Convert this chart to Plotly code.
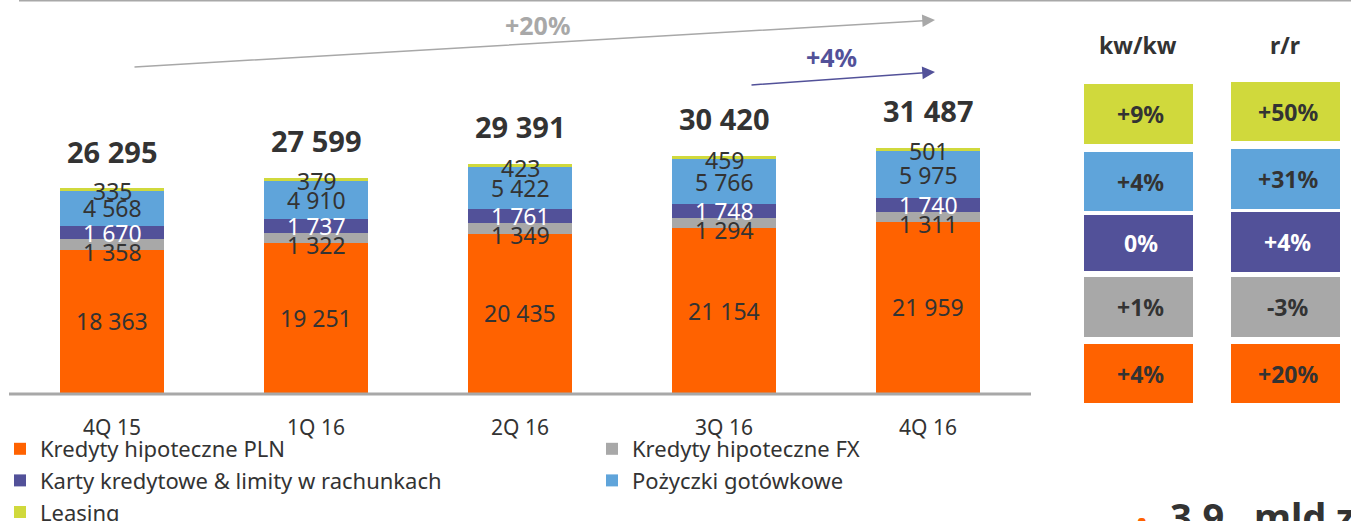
import plotly.graph_objects as go

W, H = 1351, 521

categories = ["4Q 15", "1Q 16", "2Q 16", "3Q 16", "4Q 16"]
series_names = ["Kredyty hipoteczne PLN", "Kredyty hipoteczne FX",
                "Karty kredytowe & limity w rachunkach", "Pożyczki gotówkowe", "Leasing"]
pln = [18363, 19251, 20435, 21154, 21959]
fx = [1358, 1322, 1349, 1294, 1311]
karty = [1670, 1737, 1761, 1748, 1740]
pozyczki = [4568, 4910, 5422, 5766, 5975]
leasing = [335, 379, 423, 459, 501]
totals = [26295, 27599, 29391, 30420, 31487]

kwkw = ["+9%", "+4%", "0%", "+1%", "+4%"]      # top to bottom: leasing, pożyczki, karty, FX, PLN
rr = ["+50%", "+31%", "+4%", "-3%", "+20%"]
footer_words = ["3,9", "mld", "zł"]

colors = ["#FF6200", "#A8A8A8", "#525199", "#5FA4DA", "#D0D93C"]
label_colors = ["#333333", "#333333", "#FFFFFF", "#333333", "#333333"]
DARK = "#333333"
FONT = "Noto Sans"

series = [pln, fx, karty, pozyczki, leasing]

def px(x):
    return x / W

def py(y):
    return 1 - y / H

fig = go.Figure()
for name, vals, col in zip(series_names, series, colors):
    fig.add_trace(go.Bar(x=categories, y=vals, name=name, marker_color=col,
                         marker_line_width=0, width=0.505))

annotations = []
# segment labels
for i, cat in enumerate(categories):
    base = 0
    for s, vals in enumerate(series):
        v = vals[i]
        mid = base + v / 2
        base += v
        txt = f"{v:,}".replace(",", " ")
        yshift = -7 if s == 1 else (-2 if s == 4 else 0)
        annotations.append(dict(x=cat, y=mid, xref="x", yref="y", text=txt,
                                showarrow=False, yshift=yshift, xanchor="center", yanchor="middle",
                                font=dict(family=FONT, size=23, color=label_colors[s])))
    annotations.append(dict(x=cat, y=totals[i], xref="x", yref="y",
                            text=f"<b>{totals[i]:,}</b>".replace(",", " "),
                            showarrow=False, yshift=37, xanchor="center", yanchor="middle",
                            font=dict(family=FONT, size=29, color=DARK)))

# arrows
annotations.append(dict(x=px(935), y=py(20), xref="paper", yref="paper", ax=133 - 935, ay=67 - 20,
                        axref="pixel", ayref="pixel", text="", showarrow=True, arrowhead=2,
                        arrowsize=1.7, arrowwidth=1.5, arrowcolor="#A8A8A8"))
annotations.append(dict(x=px(537), y=py(25), xref="paper", yref="paper", text="<b>+20%</b>",
                        showarrow=False, xanchor="center", yanchor="middle",
                        font=dict(family=FONT, size=25, color="#A8A8A8")))
annotations.append(dict(x=px(935), y=py(72), xref="paper", yref="paper", ax=750 - 935, ay=85 - 72,
                        axref="pixel", ayref="pixel", text="", showarrow=True, arrowhead=2,
                        arrowsize=1.7, arrowwidth=1.5, arrowcolor="#525199"))
annotations.append(dict(x=px(831), y=py(57), xref="paper", yref="paper", text="<b>+4%</b>",
                        showarrow=False, xanchor="center", yanchor="middle",
                        font=dict(family=FONT, size=25, color="#525199")))

# right-side table
annotations.append(dict(x=px(1138), y=py(45), xref="paper", yref="paper", text="<b>kw/kw</b>",
                        showarrow=False, xanchor="center", yanchor="middle",
                        font=dict(family=FONT, size=23, color=DARK)))
annotations.append(dict(x=px(1285), y=py(45), xref="paper", yref="paper", text="<b>r/r</b>",
                        showarrow=False, xanchor="center", yanchor="middle",
                        font=dict(family=FONT, size=23, color=DARK)))

shapes = []
rows1 = [(84, 144), (152, 211), (215, 271), (277, 337), (344, 403)]
rows2 = [(82, 141), (149, 209), (212, 272), (277, 337), (344, 403)]
row_colors = [colors[4], colors[3], colors[2], colors[1], colors[0]]
row_text_colors = [DARK, DARK, "#FFFFFF", DARK, DARK]
for r in range(5):
    for (x0, x1), rows, vals in [((1084, 1193), rows1, kwkw), ((1231, 1340), rows2, rr)]:
        y0, y1 = rows[r]
        shapes.append(dict(type="rect", xref="paper", yref="paper", x0=px(x0), x1=px(x1),
                           y0=py(y1), y1=py(y0), fillcolor=row_colors[r], line=dict(width=0),
                           layer="above"))
        annotations.append(dict(x=px((x0 + x1) / 2 + 2), y=py((y0 + y1) / 2), xref="paper", yref="paper",
                                text=f"<b>{vals[r]}</b>", showarrow=False,
                                xanchor="center", yanchor="middle",
                                font=dict(family=FONT, size=23, color=row_text_colors[r])))

# top thin line
shapes.append(dict(type="line", xref="paper", yref="paper", x0=px(19), x1=1, y0=py(0.7), y1=py(0.7),
                   line=dict(color="#A8A8A8", width=1.5)))
# axis baseline
shapes.append(dict(type="line", xref="paper", yref="paper", x0=px(9), x1=px(1031), y0=py(394), y1=py(394),
                   line=dict(color="#A8A8A8", width=3), layer="above"))

# cut-off bullet text at bottom right
annotations.append(dict(x=px(1133), y=py(496), xref="paper", yref="paper", text="•",
                        showarrow=False, xanchor="left", yanchor="top",
                        font=dict(family=FONT, size=36, color="#FF6200")))
for word, xpos in zip(footer_words, [1168, 1252, 1334]):
    annotations.append(dict(x=px(xpos), y=py(488), xref="paper", yref="paper", text=f"<b>{word}</b>",
                            showarrow=False, xanchor="left", yanchor="top",
                            font=dict(family=FONT, size=38, color=DARK)))

ymax = 393 / (205 / 26295)

fig.update_layout(
    width=W, height=H,
    margin=dict(l=0, r=0, t=0, b=0, autoexpand=False),
    paper_bgcolor="white", plot_bgcolor="white",
    barmode="stack",
    xaxis=dict(domain=[px(10), px(1030)], range=[-0.5, 4.5], showline=False, showgrid=False,
               ticks="outside", ticklen=16, tickcolor="rgba(0,0,0,0)",
               tickfont=dict(family=FONT, size=21, color=DARK)),
    yaxis=dict(domain=[py(393), 1], range=[0, ymax], visible=False, showgrid=False),
    showlegend=True,
    legend=dict(orientation="h", x=0, xanchor="left", y=py(428), yanchor="top",
                entrywidthmode="pixels", entrywidth=547, traceorder="normal",
                font=dict(family=FONT, size=22, color=DARK), itemwidth=30,
                bgcolor="rgba(0,0,0,0)", tracegroupgap=0),
    annotations=annotations,
    shapes=shapes,
)

fig.write_html("out.html", config={"displayModeBar": False},
               post_script="document.body.style.margin='0';document.body.style.overflow='hidden';")
